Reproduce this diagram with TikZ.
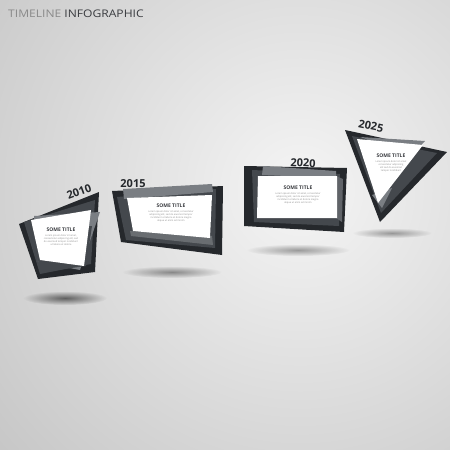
\documentclass[tikz,border=0pt]{standalone}
\usepackage{fontspec}
\setsansfont{Open Sans}
\usetikzlibrary{fadings,positioning}
\definecolor{boxdark}{HTML}{25282C}
\definecolor{boxmid}{HTML}{44484D}
\definecolor{boxlight}{HTML}{7A7E83}
\definecolor{titlegray}{HTML}{8A8A8A}
\definecolor{textdark}{HTML}{3A3C40}
\tikzfading[name=soft shadow, inner color=transparent!0, outer color=transparent!100]
\begin{document}
\begin{tikzpicture}[x=1pt, y=-1pt, line join=round,
  frame/.style={fill=boxdark},
  mid layer/.style={fill=boxmid},
  light layer/.style={fill=boxlight},
  card/.style={fill=white},
  shadow/.style={fill=black, opacity=.55, path fading=soft shadow},
  year node/.style={font=\sffamily\bfseries\fontsize{11}{11}\selectfont, text=boxdark, inner sep=0pt},
  title node/.style={font=\sffamily\bfseries\fontsize{5}{5}\selectfont, text=textdark, inner sep=0pt},
  body node/.style={font=\sffamily\fontsize{2.4}{3}\selectfont, text=black!45, align=center, inner sep=0pt}]
\useasboundingbox (0,0) rectangle (450,450);
% background
\begin{scope}
  \clip (0,0) rectangle (450,450);
  \shade[inner color=black!4, outer color=black!24] (300,190) circle (440);
\end{scope}
\node[anchor=west, inner sep=0pt, xscale=1.15, font=\sffamily\fontsize{10.5}{10.5}\selectfont] (head) at (8,14)
  {\textcolor{titlegray}{TIMELINE} \textcolor{textdark}{INFOGRAPHIC}};

% shadows
\fill[shadow] (65,298) ellipse (42 and 7);
\fill[shadow, opacity=.4] (172,272) ellipse (50 and 6);
\fill[shadow, opacity=.35] (298,250) ellipse (52 and 6);
\fill[shadow, opacity=.35] (392,233) ellipse (40 and 5);

% 2010
\fill[frame] (19,224) -- (99,192) -- (95,272) -- (38,279) -- cycle;
\fill[mid layer] (24,222) -- (95,200) -- (91,264) -- (40,274) -- cycle;
\fill[light layer] (34,216) -- (100,212) -- (80,270) -- (38,262) -- cycle;
\fill[boxmid] (28,232) -- (92,226) -- (86,266) -- (42,272) -- cycle;
\fill[card] (31,220) -- (91,210) -- (84,266) -- (40,260) -- cycle;
\node[year node, rotate=20] (y2010) at (79,192) {2010};
\node[title node] (t2010) at (61,230) {SOME TITLE};
\node[body node, below=2pt of t2010] (b2010)
  {Lorem ipsum dolor sit amet,\\ consectetur adipiscing elit, sed\\ do eiusmod tempor incididunt\\ ut labore et dolore};

% 2015
\fill[frame] (112,191) -- (223,186) -- (222,255) -- (121,242) -- cycle;
\fill[mid layer] (117,197) -- (216,189) -- (215,248) -- (126,240) -- cycle;
\fill[light layer] (123,189) -- (212,184) -- (213,192) -- (124,199) -- cycle;
\fill[boxmid!80!white] (130,231) -- (212,236) -- (213,245) -- (131,236) -- cycle;
\fill[card] (127,198) -- (212,195) -- (210,238) -- (133,231) -- cycle;
\node[year node] (y2015) at (133,184) {2015};
\node[title node] (t2015) at (171,206) {SOME TITLE};
\node[body node, below=2pt of t2015] (b2015)
  {Lorem ipsum dolor sit amet, consectetur\\ adipiscing elit, sed do eiusmod tempor\\ incididunt ut labore et dolore magna\\ aliqua ut enim ad minim};

% 2020
\fill[frame] (244,166) -- (347,168) -- (344,232) -- (244,226) -- cycle;
\fill[mid layer] (252,170) -- (340,174) -- (339,226) -- (254,222) -- cycle;
\fill[light layer] (263,166) -- (336,171) -- (336,178) -- (262,175) -- cycle;
\fill[boxmid!85!white] (336,176) -- (343,179) -- (342,222) -- (336,218) -- cycle;
\fill[card] (258,176) -- (337,176) -- (337,218) -- (257,218) -- cycle;
\node[year node, rotate=-3] (y2020) at (303,163) {2020};
\node[title node] (t2020) at (298,188) {SOME TITLE};
\node[body node, below=2pt of t2020] (b2020)
  {Lorem ipsum dolor sit amet, consectetur\\ adipiscing elit, sed do eiusmod tempor\\ incididunt ut labore et dolore magna\\ aliqua ut enim ad minim};

% 2025
\fill[frame] (345,130) -- (447,152) -- (380,222) -- cycle;
\fill[mid layer] (352,136) -- (437,153) -- (381,213) -- cycle;
\fill[light layer] (360,137) -- (425,141) -- (412,155) -- cycle;
\fill[boxlight] (372,195) -- (392,188) -- (382,208) -- cycle;
\fill[card] (357,139) -- (423,145) -- (378,203) -- cycle;
\node[year node, rotate=-12] (y2025) at (371,126) {2025};
\node[title node] (t2025) at (391,156) {SOME TITLE};
\node[body node, below=2pt of t2025] (b2025)
  {Lorem ipsum dolor sit amet\\ consectetur adipiscing\\ elit sed do eiusmod\\ tempor incididunt};
\end{tikzpicture}
\end{document}
